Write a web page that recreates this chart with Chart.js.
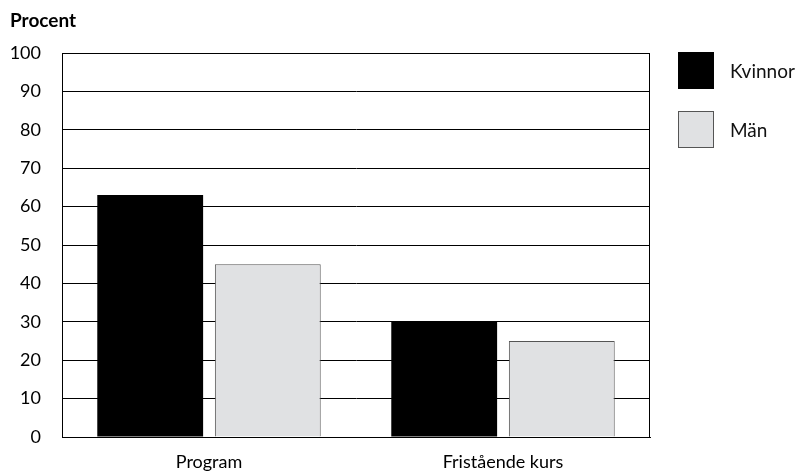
<!DOCTYPE html>
<html>
<head>
<meta charset="utf-8">
<script src="https://cdn.jsdelivr.net/npm/chart.js@4/dist/chart.umd.min.js"></script>
<style>
  body { margin: 0; background: #fff; font-family: Lato, sans-serif; }
  #wrap { position: relative; width: 801px; height: 474px; }
  #title { position: absolute; left: 10px; top: 8px; font-weight: bold; font-size: 19px; color: #000; }
  .leg { position: absolute; left: 678px; width: 36px; height: 37px; box-sizing: border-box; }
  .legtxt { position: absolute; left: 730px; font-size: 19px; color: #111; line-height: 20px; }
</style>
</head>
<body>
<div id="wrap">
  <canvas id="chart" width="801" height="474"></canvas>
  <div id="title">Procent</div>
  <div class="leg" style="top:52px; background:#000;"></div>
  <div class="legtxt" style="top:61px;">Kvinnor</div>
  <div class="leg" style="top:111px; background:#e0e1e3; border:1px solid #555;"></div>
  <div class="legtxt" style="top:120px;">Män</div>
</div>
<script>
const categories = ["Program", "Fristående kurs"];
const kvinnor = [63, 30];
const man = [45, 25];
const yTicks = [0, 10, 20, 30, 40, 50, 60, 70, 80, 90, 100];

// frame round the plot area
const frame = {
  id: "frame",
  afterDraw(chart) {
    const a = chart.chartArea;
    const c = chart.ctx;
    c.save();
    c.strokeStyle = "#000";
    c.lineWidth = 1;
    c.strokeRect(a.left + 0.5, a.top + 0.5, a.right - a.left - 1, a.bottom - a.top);
    c.restore();
  },
};

const ctx = document.getElementById("chart").getContext("2d");
new Chart(ctx, {
  type: "bar",
  data: {
    labels: categories,
    datasets: [
      { label: "Kvinnor", data: kvinnor, backgroundColor: "#000", borderColor: "#000", borderWidth: 0 },
      { label: "Män", data: man, backgroundColor: "#e0e1e3", borderColor: "#555", borderWidth: 1 },
    ],
  },
  options: {
    responsive: false,
    animation: false,
    layout: { padding: { left: 0, right: 151, top: 53, bottom: 0 } },
    plugins: { legend: { display: false }, tooltip: { enabled: false } },
    categoryPercentage: 0.8,
    barPercentage: 0.9,
    scales: {
      x: {
        grid: { display: false, drawTicks: false },
        border: { color: "#000" },
        ticks: { color: "#000", padding: 14, font: { family: "Lato", size: 18 } },
        afterFit(scale) { scale.height = 37; },
      },
      y: {
        min: 0,
        max: 100,
        afterBuildTicks(scale) { scale.ticks = yTicks.map(v => ({ value: v })); },
        grid: { color: "#000", lineWidth: 1, drawTicks: false },
        border: { color: "#000" },
        ticks: { color: "#000", padding: 21, font: { family: "Lato", size: 18 } },
        afterFit(scale) { scale.width = 62; },
      },
    },
  },
  plugins: [frame],
});
</script>
</body>
</html>
